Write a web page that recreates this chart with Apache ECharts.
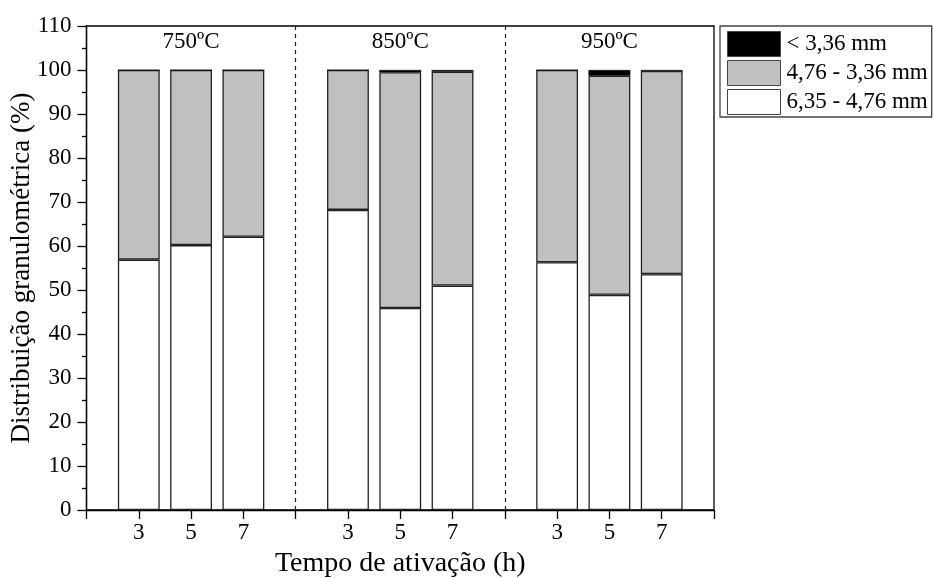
<!DOCTYPE html>
<html>
<head>
<meta charset="utf-8">
<script src="https://cdn.jsdelivr.net/npm/echarts@6/dist/echarts.min.js"></script>
<style>
  html, body { margin: 0; padding: 0; background: #fff; }
  #chart { width: 933px; height: 578px; }
</style>
</head>
<body>
<div id="chart"></div>
<script>
// Activation temperatures (one group of bars each)
const temperatures = ['750ºC', '850ºC', '950ºC'];
// Activation times within each group (h)
const times = ['3', '5', '7'];
// Size fractions (%), per bar, ordered 750/3, 750/5, 750/7, 850/3, ...
const fineFrac   = [0, 0, 0, 0, 0.5, 0.4, 0, 1.3, 0.2];                   // < 3,36 mm
const midFrac    = [43.1, 39.8, 37.9, 31.8, 53.6, 48.6, 43.7, 49.8, 46.2]; // 4,76 - 3,36 mm
const coarseFrac = [56.9, 60.2, 62.1, 68.2, 45.9, 51.0, 56.3, 48.9, 53.6]; // 6,35 - 4,76 mm
const seriesNames = ['< 3,36 mm', '4,76 - 3,36 mm', '6,35 - 4,76 mm'];
// y axis range
const yMax = 110;
const yStep = 10;

// The x axis has one slot per bar plus an empty slot between/around groups
const slotCount = temperatures.length * (times.length + 1) + 1;
const slots = Array.from({ length: slotCount }, (_, i) => String(i));
const slotLabels = slots.map(() => '');
const slotOf = (g, k) => g * (times.length + 1) + k + 1;
temperatures.forEach((_, g) => times.forEach((t, k) => { slotLabels[slotOf(g, k)] = t; }));
const separators = temperatures.slice(1).map((_, g) => String((g + 1) * (times.length + 1)));

function toSlots(values) {
  const out = slots.map(() => null);
  values.forEach((v, i) => {
    const g = Math.floor(i / times.length), k = i % times.length;
    out[slotOf(g, k)] = v;
  });
  return out;
}

const serif = 'Liberation Serif, Times New Roman, serif';
const barBorder = { borderColor: '#222', borderWidth: 1.3 };

const chart = echarts.init(document.getElementById('chart'), null, { renderer: 'canvas' });
chart.setOption({
  animation: false,
  backgroundColor: '#fff',
  textStyle: { fontFamily: serif, color: '#000' },
  grid: {
    left: 86.5, right: 219, top: 26, bottom: 68,
    outerBoundsMode: 'none', containLabel: false,
    show: true, borderColor: '#000', borderWidth: 1.3, backgroundColor: 'transparent'
  },
  legend: {
    orient: 'vertical',
    left: 720, top: 26,
    data: seriesNames,
    itemWidth: 53, itemHeight: 25, itemGap: 3,
    padding: [5, 4, 2, 7],
    borderColor: '#444', borderWidth: 1.3,
    selectedMode: false,
    icon: 'rect',
    textStyle: { fontFamily: serif, fontSize: 23, lineHeight: 25, color: '#000', padding: [0, 0, 0, 1] },
    itemStyle: { borderColor: '#444', borderWidth: 1 }
  },
  xAxis: {
    type: 'category',
    data: slots,
    boundaryGap: false,
    name: 'Tempo de ativação (h)',
    nameLocation: 'middle',
    nameGap: 40,
    nameMoveOverlap: false,
    nameTextStyle: { fontFamily: serif, fontSize: 28, color: '#000' },
    axisLine: { lineStyle: { color: '#000', width: 1.3 } },
    axisTick: { show: true, interval: 0, length: 9, lineStyle: { color: '#000', width: 1.3 } },
    axisLabel: {
      interval: 0, margin: 11,
      fontFamily: serif, fontSize: 23, color: '#000',
      formatter: (v, i) => slotLabels[i]
    },
    splitLine: { show: false }
  },
  yAxis: {
    type: 'value',
    min: 0, max: yMax, interval: yStep,
    name: 'Distribuição granulométrica (%)',
    nameLocation: 'middle',
    nameGap: 51,
    nameMoveOverlap: false,
    nameTextStyle: { fontFamily: serif, fontSize: 27, color: '#000' },
    axisLine: { show: true, lineStyle: { color: '#000', width: 1.3 } },
    axisTick: { show: true, length: 9, lineStyle: { color: '#000', width: 1.3 } },
    minorTick: { show: true, splitNumber: 2, length: 4.5, lineStyle: { color: '#000', width: 1.3 } },
    axisLabel: { fontFamily: serif, fontSize: 23, color: '#000', margin: 15 },
    splitLine: { show: false }
  },
  series: [
    {
      name: seriesNames[2], type: 'bar', stack: 'total', barWidth: '80%',
      data: toSlots(coarseFrac),
      itemStyle: Object.assign({ color: '#ffffff' }, barBorder),
      markLine: {
        silent: true, symbol: 'none',
        label: { show: false },
        lineStyle: { color: '#222', type: [4, 4], width: 1.2 },
        data: separators.map(s => ({ xAxis: s }))
      }
    },
    {
      name: seriesNames[1], type: 'bar', stack: 'total', barWidth: '80%',
      data: toSlots(midFrac),
      itemStyle: Object.assign({ color: '#c0c0c0' }, barBorder)
    },
    {
      name: seriesNames[0], type: 'bar', stack: 'total', barWidth: '80%',
      data: toSlots(fineFrac),
      itemStyle: { color: '#000000', borderColor: '#000', borderWidth: 0.5 }
    },
    {
      // temperature captions above each group
      type: 'scatter',
      symbolSize: 0,
      silent: true,
      itemStyle: { opacity: 1 },
      data: temperatures.map((t, g) => ({ value: [String(slotOf(g, 1)), 106.4], name: t })),
      label: {
        show: true, position: 'inside',
        formatter: p => p.name,
        fontFamily: serif, fontSize: 23, color: '#000'
      }
    }
  ]
});
</script>
</body>
</html>
